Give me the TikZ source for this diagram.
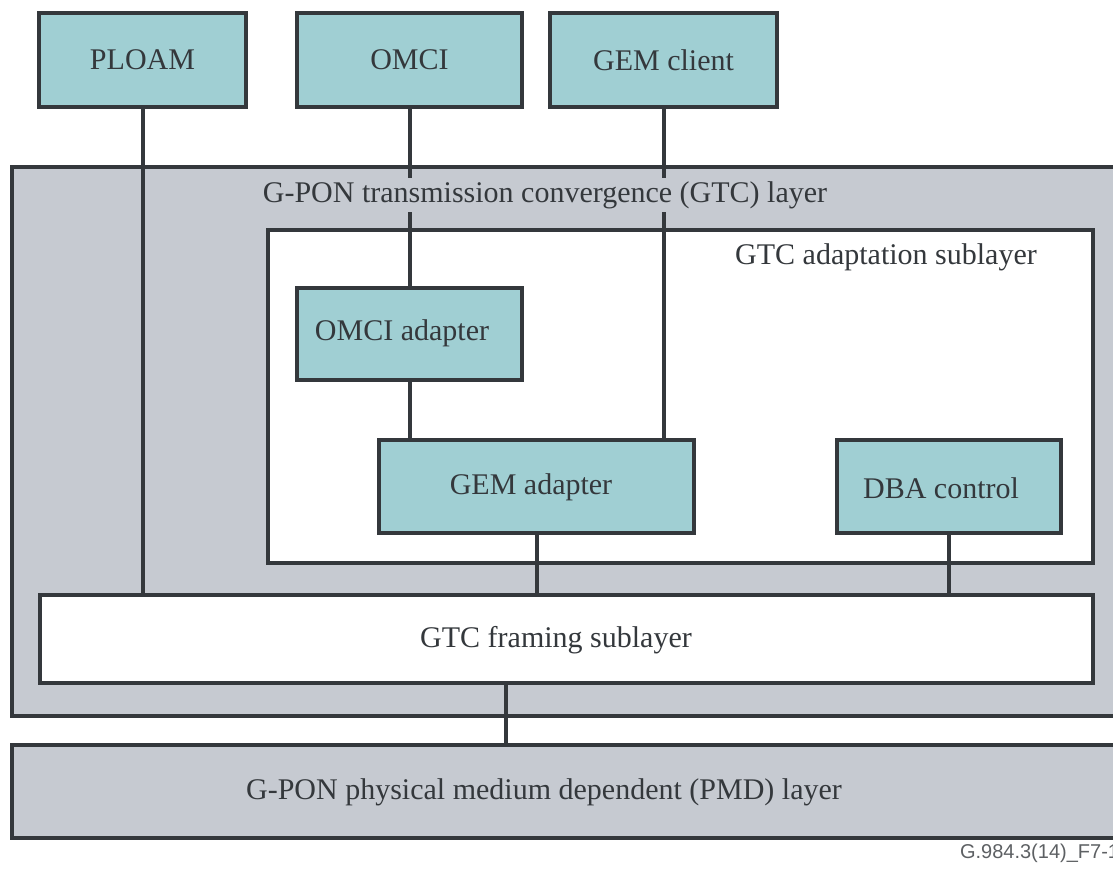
\documentclass[tikz,border=0pt]{standalone}
\usepackage{fontspec}
\setmainfont{Liberation Serif}
\newfontfamily\figfont{Liberation Sans}
\definecolor{boxteal}{RGB}{160,207,211}
\definecolor{layergray}{RGB}{198,202,209}
\definecolor{inkgray}{RGB}{52,56,60}
\begin{document}
\begin{tikzpicture}[x=0.5pt,y=-0.5pt,
    every node/.style={text=inkgray,font=\fontsize{15}{18}\selectfont},
    func/.style={draw=inkgray,line width=2.4pt,fill=boxteal,inner sep=0pt},
    layer/.style={draw=inkgray,line width=2.4pt,fill=layergray,inner sep=0pt},
    sublayer/.style={draw=inkgray,line width=2.4pt,fill=white,inner sep=0pt},
    link/.style={draw=inkgray,line width=2pt},
    tag/.style={inner sep=1.5pt}]
                    \useasboundingbox (0,0) rectangle (1113,868);
                    \clip (0,0) rectangle (1113,868);
                    \node[func,minimum width=103.5pt,minimum height=47pt] (ploam) at (142.5,60) {PLOAM};
                    \node[func,minimum width=112.5pt,minimum height=47pt] (omci) at (409.5,60) {OMCI};
                    \node[func,minimum width=113.5pt,minimum height=47pt] (gemclient) at (663.5,60) {GEM client};
                    \node[layer,minimum width=559pt,minimum height=274.5pt] (gtc) at (571,441.5) {};
                    \node[sublayer,minimum width=412.5pt,minimum height=166.5pt] (adapt) at (680.5,396.5) {};
                    \node[func,minimum width=112.5pt,minimum height=46pt] (omciad) at (409.5,334) {};
                    \node (omciadtxt) at (402,333) {OMCI adapter};
                    \node[func,minimum width=157.5pt,minimum height=46.5pt] (gemad) at (536.5,486.5) {};
                    \node (gemadtxt) at (531,487) {GEM adapter};
                    \node[func,minimum width=112pt,minimum height=46.5pt] (dba) at (949,486.5) {};
                    \node (dbatxt) at (941,488) {DBA control};
                    \node[sublayer,minimum width=526.5pt,minimum height=44pt] (framing) at (566.5,639) {};
                    \node (framingtxt) at (556,640) {GTC framing sublayer};
                    \node[layer,minimum width=559pt,minimum height=46.5pt] (pmd) at (571,791.5) {};
                    \node (pmdtxt) at (544,792) {G-PON physical medium dependent (PMD) layer};
                    \draw[link] (ploam.south) -- (ploam.south |- framing.north);
                    \draw[link] (omci.south) -- (omciad.north);
                    \draw[link] (omciad.south) -- (omciad.south |- gemad.north);
                    \draw[link] (gemclient.south) -- (gemclient.south |- gemad.north);
                    \draw[link] (gemad.south) -- (gemad.south |- framing.north);
                    \draw[link] (dba.south) -- (dba.south |- framing.north);
                    \draw[link] ([xshift=-30.25pt]framing.south) -- ([xshift=-30.25pt]framing.south |- pmd.north);
                    \node[tag,fill=layergray] (gtctxt) at (545,195) {G-PON transmission convergence (GTC) layer};
                    \node[tag] (adapttxt) at (886,257) {GTC adaptation sublayer};
                    \node[anchor=west,text=inkgray!80,font=\figfont\fontsize{10}{12}\selectfont] (figid) at (953,853) {G.984.3(14)\_F7-1};
                \end{tikzpicture}
\end{document}
